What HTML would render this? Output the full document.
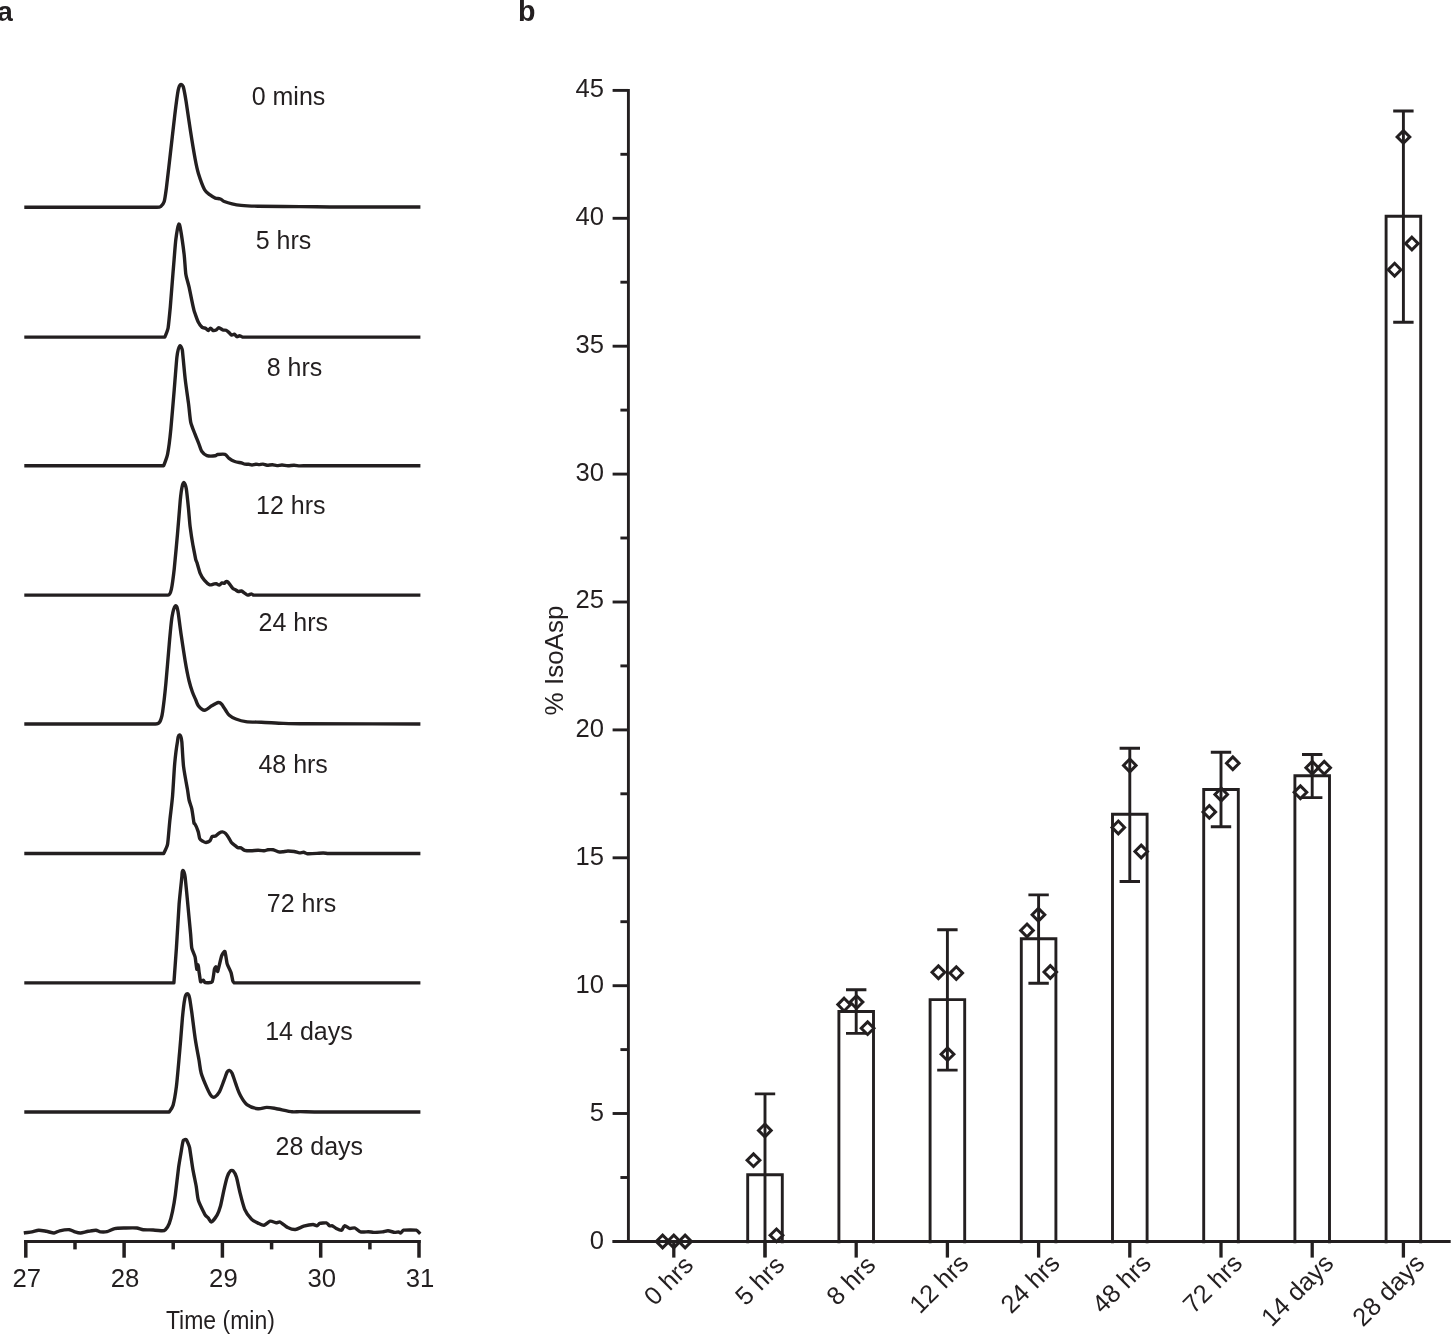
<!DOCTYPE html>
<html><head><meta charset="utf-8"><title>Figure</title>
<style>html,body{margin:0;padding:0;background:#fff}body{width:1451px;height:1335px;overflow:hidden;font-family:'Liberation Sans', sans-serif}svg{display:block;will-change:transform;-webkit-font-smoothing:antialiased}</style>
</head><body>
<svg width="1451" height="1335" viewBox="0 0 1451 1335">
<rect width="1451" height="1335" fill="#fff"/>
<g fill="none" stroke="#231f20" stroke-width="3.4" stroke-linejoin="round" stroke-linecap="butt">
<path d="M24.3 207.3C68.5 207.3 155.6 207.3 156.9 207.3C158.2 207.3 159.8 207.3 160.8 206.5C161.8 205.7 163.6 203.4 164.2 201.5C164.8 199.6 165.8 192.5 166.4 188.0C167.0 183.5 169.0 165.5 170.3 154.3C171.6 143.1 173.8 123.1 174.8 114.9C175.8 106.7 177.8 92.2 178.2 90.2C178.6 88.2 179.4 85.3 180.4 84.6C181.4 83.9 182.9 85.7 183.3 86.9C183.7 88.1 185.3 96.6 186.1 101.5C186.9 106.4 189.2 122.8 190.6 131.8C192.0 140.8 194.2 153.9 195.1 158.8C196.0 163.7 196.9 168.6 198.4 173.4C199.9 178.2 203.5 187.6 204.6 189.7C205.7 191.8 208.0 193.4 209.7 194.7C211.4 196.0 213.7 197.5 215.3 198.1C216.9 198.7 218.8 198.4 220.3 199.0C221.8 199.6 222.8 200.9 224.3 201.5C225.8 202.1 229.5 203.3 232.1 203.9C234.7 204.5 238.1 205.1 241.1 205.4C244.1 205.7 252.4 206.1 258.0 206.2C263.6 206.3 286.7 206.5 300.0 206.6C313.3 206.7 326.7 207.0 340.0 207.0C353.3 207.0 393.6 207.0 420.4 207.0"/>
<path d="M24.3 337.1C59.4 337.1 164.8 337.1 164.8 337.1C164.8 337.1 164.8 337.1 164.8 337.1C164.8 337.1 167.7 330.4 168.1 328.0C168.5 325.6 169.8 312.3 170.3 307.0C170.8 301.7 172.4 279.7 173.1 271.7C173.8 263.7 175.3 243.7 175.8 239.8C176.3 235.9 178.0 225.8 178.8 224.3C179.6 222.8 180.5 229.2 180.8 230.9C181.1 232.6 183.5 249.2 184.1 254.1C184.7 259.0 185.3 270.5 185.8 273.9C186.3 277.3 188.4 283.9 189.1 287.2C189.8 290.5 191.3 297.9 191.8 300.4C192.3 302.9 193.8 309.5 194.0 310.3C194.2 311.1 194.7 312.6 195.0 313.4C195.3 314.2 197.3 320.1 198.1 321.7C198.9 323.3 201.5 326.8 202.2 327.4C202.9 328.0 205.2 328.0 205.9 328.4C206.6 328.8 207.6 330.6 208.4 330.5C209.2 330.4 209.7 328.1 210.5 328.1C211.3 328.1 212.4 330.3 213.1 330.5C213.8 330.7 215.5 330.3 216.2 330.0C216.9 329.7 217.9 327.7 218.8 327.7C219.7 327.7 222.2 329.7 222.9 330.0C223.6 330.3 225.3 329.9 226.0 330.2C226.7 330.5 228.4 332.0 229.1 332.6C229.8 333.2 231.0 334.9 231.7 335.1C232.4 335.3 233.6 333.9 234.3 334.1C235.0 334.3 236.2 336.5 236.9 336.7C237.6 336.9 238.8 335.7 239.5 335.7C240.2 335.7 242.6 337.1 242.6 337.1C242.6 337.1 242.6 337.1 242.6 337.1C242.6 337.1 375.9 337.1 420.4 337.1"/>
<path d="M24.3 465.7C63.8 465.7 163.7 465.7 163.7 465.7C163.7 465.7 163.7 465.7 163.7 465.7C163.7 465.7 166.9 457.5 167.6 454.1C168.3 450.7 170.2 435.9 170.9 428.7C171.6 421.5 173.4 399.4 174.2 390.1C175.0 380.8 176.5 360.3 176.9 357.1C177.3 353.9 178.8 347.1 179.7 346.0C180.6 344.9 182.2 349.0 182.4 350.4C182.6 351.8 184.4 372.2 185.2 379.1C186.0 386.0 187.8 398.1 188.5 403.4C189.2 408.7 190.0 418.6 190.7 422.1C191.4 425.6 193.9 431.1 195.0 434.1C196.1 437.1 198.4 442.6 199.1 444.5C199.8 446.4 200.6 449.6 201.7 451.2C202.8 452.8 205.1 455.0 206.9 455.6C208.7 456.2 214.4 455.9 215.2 455.8C216.0 455.7 216.9 454.6 217.7 454.5C218.5 454.4 223.4 453.8 225.0 454.3C226.6 454.8 227.8 457.4 229.1 458.4C230.4 459.4 233.1 460.9 234.8 461.5C236.5 462.1 240.5 462.6 241.5 462.9C242.5 463.2 244.0 464.0 245.0 464.2C246.0 464.4 247.9 464.2 248.8 464.3C249.7 464.4 251.1 465.0 252.0 465.0C252.9 465.0 255.1 464.2 256.0 464.2C256.9 464.2 258.2 464.6 259.1 464.6C260.0 464.6 261.9 464.0 263.0 464.1C264.1 464.2 265.8 465.1 267.0 465.2C268.2 465.3 271.2 464.7 272.5 464.8C273.8 464.9 275.7 465.6 277.0 465.6C278.3 465.6 280.6 465.0 282.0 465.0C283.4 465.0 286.3 465.8 288.0 465.8C289.7 465.8 292.3 465.3 294.0 465.3C295.7 465.3 298.3 465.9 300.0 465.9C301.7 465.9 306.2 465.7 308.7 465.7C311.2 465.7 388.8 465.7 420.4 465.7"/>
<path d="M24.3 595.1C62.6 595.1 166.3 595.2 168.1 595.1C169.9 595.0 171.0 590.9 171.4 589.1C171.8 587.3 173.6 574.5 174.2 569.2C174.8 563.9 176.7 542.7 177.5 533.9C178.3 525.1 179.8 505.1 180.2 500.9C180.6 496.7 182.2 486.2 182.4 485.4C182.6 484.6 183.5 482.2 184.1 482.7C184.7 483.2 186.0 487.0 186.3 488.7C186.6 490.4 188.0 503.6 188.5 508.6C189.0 513.6 189.6 522.6 190.2 527.3C190.8 532.0 192.2 541.2 192.9 545.0C193.6 548.8 195.5 558.2 195.7 559.3C195.9 560.4 196.8 562.1 197.1 563.1C197.4 564.1 199.4 571.4 200.2 573.4C201.0 575.4 203.1 578.8 204.3 580.2C205.5 581.6 208.6 584.4 209.5 584.8C210.4 585.2 212.3 584.4 213.1 584.3C213.9 584.2 215.4 583.5 216.2 583.6C217.0 583.7 218.4 585.2 219.3 585.1C220.2 585.0 221.2 583.2 221.9 583.0C222.6 582.8 223.9 583.5 224.5 583.3C225.1 583.1 225.4 581.7 226.0 581.5C226.6 581.3 227.7 581.8 228.1 582.2C228.5 582.6 232.0 587.7 232.7 588.4C233.4 589.1 235.1 589.6 235.8 590.0C236.5 590.4 237.6 591.4 238.4 591.5C239.2 591.6 240.7 590.8 241.5 591.0C242.3 591.2 243.8 592.6 244.6 593.1C245.4 593.6 246.7 595.0 247.7 595.1C248.7 595.2 250.7 593.9 251.3 593.9C251.9 593.9 253.4 595.1 253.4 595.1C253.4 595.1 253.4 595.1 253.4 595.1C253.4 595.1 375.9 595.1 420.4 595.1"/>
<path d="M24.3 724.0C68.0 724.0 153.8 724.0 155.4 724.0C157.0 724.0 159.0 723.2 159.8 721.8C160.6 720.4 162.1 715.3 162.6 711.9C163.1 708.5 165.0 692.8 165.9 683.2C166.8 673.6 168.4 653.8 169.2 644.6C170.0 635.4 171.4 620.9 172.0 617.1C172.6 613.3 173.8 607.4 175.3 606.0C176.8 604.6 177.6 609.5 178.0 611.5C178.4 613.5 180.1 627.7 181.3 635.8C182.5 643.9 184.1 654.6 185.2 661.2C186.3 667.8 188.2 677.3 189.1 681.0C190.0 684.7 191.5 689.4 192.4 692.0C193.3 694.6 194.8 697.7 195.7 699.7C196.6 701.7 197.0 704.1 198.4 705.8C199.8 707.5 202.0 710.2 204.5 710.2C207.0 710.2 209.6 707.0 211.7 705.8C213.8 704.6 217.1 702.7 218.3 702.5C219.5 702.3 220.8 703.2 221.6 704.1C222.4 705.0 225.0 709.3 226.0 710.8C227.0 712.3 227.9 714.0 229.3 715.2C230.7 716.4 233.5 718.1 235.9 719.0C238.3 719.9 242.4 721.2 245.8 721.6C249.2 722.0 256.1 722.1 261.3 722.3C266.5 722.5 277.7 723.2 283.3 723.4C288.9 723.6 294.4 723.8 300.0 723.8C305.6 723.8 380.3 723.9 420.4 724.0"/>
<path d="M24.3 853.5C59.1 853.5 163.7 853.5 163.7 853.5C163.7 853.5 163.7 853.5 163.7 853.5C163.7 853.5 167.1 846.6 167.6 844.1C168.1 841.6 169.2 826.7 169.8 820.9C170.4 815.1 172.0 802.8 172.5 796.7C173.0 790.6 174.2 769.1 174.7 763.6C175.2 758.1 177.2 743.2 177.5 741.5C177.8 739.8 178.0 734.5 179.7 734.9C181.4 735.3 181.7 740.6 181.9 742.6C182.1 744.6 182.9 761.3 183.6 766.9C184.3 772.5 186.9 786.3 187.4 789.0C187.9 791.7 188.6 797.8 189.1 800.0C189.6 802.2 191.3 806.5 191.8 808.8C192.3 811.1 193.9 822.8 194.0 823.1C194.1 823.4 194.8 823.8 195.0 824.1C195.2 824.4 197.5 829.6 198.1 831.4C198.7 833.2 199.3 837.7 199.7 838.6C200.1 839.5 202.1 840.8 202.8 841.2C203.5 841.6 205.1 842.6 205.9 842.5C206.7 842.4 209.2 841.5 210.0 840.7C210.8 839.9 211.4 837.1 212.1 836.5C212.8 835.9 214.9 836.4 215.7 836.0C216.5 835.6 218.6 833.3 219.3 832.9C220.0 832.5 221.6 831.8 222.4 831.9C223.2 832.0 224.9 832.8 225.5 833.4C226.1 834.0 227.9 836.5 228.6 837.6C229.3 838.7 230.5 841.3 231.2 842.2C231.9 843.1 234.0 844.7 234.8 845.3C235.6 845.9 237.2 847.4 237.9 847.7C238.6 848.0 240.3 847.6 241.0 847.9C241.7 848.2 243.6 850.0 244.6 850.3C245.6 850.6 249.2 850.8 250.8 850.8C252.4 850.8 256.5 850.3 258.1 850.3C259.7 850.3 263.4 850.8 264.3 850.8C265.2 850.8 267.0 849.9 267.9 849.8C268.8 849.7 271.8 849.6 273.1 849.8C274.4 850.0 277.7 851.6 278.7 851.8C279.7 852.0 281.9 851.9 282.9 851.8C283.9 851.7 286.7 851.0 288.0 851.0C289.3 851.0 292.9 851.3 294.2 851.5C295.5 851.7 298.3 852.8 299.4 852.9C300.5 853.0 302.6 852.2 303.6 852.3C304.6 852.4 306.2 853.6 307.2 853.7C308.2 853.8 315.4 853.5 317.0 853.4C318.6 853.3 321.9 853.0 323.2 853.0C324.5 853.0 327.1 853.5 328.4 853.5C329.7 853.5 397.4 853.5 420.4 853.5"/>
<path d="M24.3 982.9C54.2 982.9 173.9 982.9 173.9 982.9C173.9 982.9 173.9 982.9 173.9 982.9C173.9 982.9 175.9 955.1 176.4 948.2C176.9 941.3 178.7 909.6 179.1 904.1C179.5 898.6 181.8 877.7 181.9 876.5C182.0 875.3 182.0 870.1 183.2 870.5C184.4 870.9 185.0 876.1 185.2 877.6C185.4 879.1 187.5 900.6 188.0 906.3C188.5 912.0 190.5 932.4 190.7 935.0C190.9 937.6 191.4 946.4 191.8 948.2C192.2 950.0 194.7 955.2 195.1 957.0C195.5 958.8 196.5 968.3 196.8 969.2C197.1 970.1 197.2 964.0 197.9 964.7C198.6 965.4 198.8 970.1 199.0 971.4C199.2 972.7 200.3 981.2 200.6 981.8C200.9 982.4 202.8 980.1 203.4 980.2C204.0 980.3 204.5 982.5 205.1 982.6C205.7 982.7 211.4 983.0 212.2 981.8C213.0 980.6 214.3 969.8 214.4 969.2C214.5 968.6 215.6 966.6 216.1 966.9C216.6 967.2 217.3 972.3 217.7 971.4C218.1 970.5 221.2 956.9 221.6 955.9C222.0 954.9 224.3 950.6 224.9 951.5C225.5 952.4 226.6 961.7 227.1 963.6C227.6 965.5 230.5 970.8 231.0 972.5C231.5 974.2 232.7 980.5 232.8 981.0C232.9 981.5 234.2 982.9 234.2 982.9C234.2 982.9 234.2 982.9 234.2 982.9C234.2 982.9 383.2 982.9 420.4 982.9"/>
<path d="M24.3 1112.0C72.6 1112.0 169.2 1112.0 169.2 1112.0C169.2 1112.0 169.2 1112.0 169.2 1112.0C169.2 1112.0 172.4 1107.7 173.1 1105.2C173.8 1102.7 175.6 1092.7 176.4 1086.4C177.2 1080.1 178.7 1062.2 179.7 1051.2C180.7 1040.2 181.8 1024.4 182.4 1018.1C183.0 1011.8 184.3 1001.2 184.7 999.3C185.1 997.4 185.2 994.2 186.9 993.8C188.6 993.4 189.2 996.5 189.6 998.2C190.0 999.9 191.1 1007.8 191.8 1012.6C192.5 1017.4 194.0 1030.5 195.1 1037.9C196.2 1045.3 198.2 1055.6 199.0 1060.0C199.8 1064.4 200.0 1068.9 201.2 1073.2C202.4 1077.5 206.1 1085.9 207.3 1088.6C208.5 1091.3 210.9 1095.6 211.7 1096.4C212.5 1097.2 214.0 1097.5 215.0 1096.9C216.0 1096.3 218.3 1093.8 219.4 1091.9C220.5 1090.0 222.7 1083.8 223.8 1080.9C224.9 1078.0 226.7 1072.9 227.1 1072.1C227.5 1071.3 228.4 1070.2 229.3 1070.4C230.2 1070.6 231.5 1072.0 232.1 1073.2C232.7 1074.4 234.6 1080.6 235.9 1084.2C237.2 1087.8 238.5 1092.0 240.3 1095.3C242.1 1098.6 243.9 1102.3 246.9 1104.6C249.9 1106.9 255.1 1108.3 258.0 1108.7C260.9 1109.1 263.8 1107.4 266.8 1107.4C269.8 1107.4 272.7 1108.0 275.6 1108.5C278.5 1109.0 289.5 1111.5 292.1 1111.8C294.7 1112.1 297.4 1111.6 300.0 1111.6C302.6 1111.6 313.3 1112.0 320.0 1112.0C326.7 1112.0 386.9 1112.0 420.4 1112.0"/>
<path d="M23.8 1233.0C25.7 1232.7 30.4 1232.2 32.0 1231.9C33.6 1231.6 37.1 1230.3 38.7 1230.2C40.3 1230.1 44.6 1231.0 46.4 1231.3C48.2 1231.6 52.7 1233.1 54.1 1233.0C55.5 1232.9 58.2 1231.1 59.6 1230.8C61.0 1230.5 68.1 1229.6 69.5 1229.7C70.9 1229.8 73.7 1231.5 75.0 1231.9C76.3 1232.3 79.3 1233.1 80.6 1233.0C81.9 1232.9 86.5 1231.6 88.3 1231.3C90.1 1231.0 94.9 1230.1 96.0 1230.2C97.1 1230.3 99.3 1231.8 100.4 1231.9C101.5 1232.0 105.5 1232.0 107.0 1231.7C108.5 1231.4 112.8 1229.0 114.7 1228.6C116.6 1228.2 123.2 1228.1 125.8 1228.0C128.4 1227.9 135.2 1227.8 136.8 1228.0C138.4 1228.2 141.7 1229.5 143.3 1229.7C144.9 1229.9 151.1 1229.9 153.2 1230.0C155.3 1230.1 161.3 1230.8 162.1 1230.8C162.9 1230.8 164.8 1230.3 165.4 1229.7C166.0 1229.1 168.6 1225.2 169.2 1223.6C169.8 1222.0 171.9 1214.4 172.5 1211.5C173.1 1208.6 174.8 1198.9 175.3 1195.0C175.8 1191.1 178.1 1171.3 178.6 1167.4C179.1 1163.5 180.9 1153.4 181.3 1150.9C181.7 1148.4 183.0 1141.1 183.3 1140.4C183.6 1139.7 185.8 1139.3 186.3 1139.8C186.8 1140.3 189.2 1145.7 189.6 1147.6C190.0 1149.5 192.2 1165.7 192.9 1169.6C193.6 1173.5 195.6 1182.9 196.2 1186.2C196.8 1189.5 197.4 1197.3 198.4 1200.5C199.4 1203.7 204.5 1213.8 205.0 1214.8C205.5 1215.8 207.7 1217.3 208.4 1218.1C209.1 1218.9 210.3 1222.4 211.4 1222.0C212.5 1221.6 216.1 1216.7 217.2 1214.8C218.3 1212.9 219.9 1208.1 220.5 1206.0C221.1 1203.9 223.1 1193.7 223.8 1190.6C224.5 1187.5 226.6 1178.9 227.1 1177.3C227.6 1175.7 229.9 1171.4 230.4 1170.9C230.9 1170.4 232.7 1170.4 233.2 1170.9C233.7 1171.4 236.0 1175.7 236.5 1177.3C237.0 1178.9 239.4 1190.3 240.3 1193.9C241.2 1197.5 243.6 1206.7 244.7 1209.3C245.8 1211.9 250.2 1217.9 251.4 1219.2C252.6 1220.5 256.7 1222.5 258.0 1223.1C259.3 1223.7 262.5 1225.5 264.0 1225.3C265.5 1225.1 268.7 1221.5 270.1 1221.2C271.5 1220.9 275.3 1222.7 276.2 1222.8C277.1 1222.9 279.2 1221.7 280.0 1222.0C280.8 1222.3 286.0 1226.7 287.7 1227.5C289.4 1228.3 293.5 1229.7 295.4 1229.5C297.3 1229.3 301.7 1226.8 303.7 1226.2C305.7 1225.6 312.2 1224.5 313.1 1224.5C314.0 1224.5 316.1 1225.9 316.9 1225.8C317.7 1225.7 318.9 1223.7 319.7 1223.4C320.5 1223.1 325.3 1222.7 326.3 1222.9C327.3 1223.1 329.0 1225.5 329.6 1225.8C330.2 1226.1 331.8 1225.6 332.4 1225.8C333.0 1226.0 335.2 1227.9 336.2 1228.4C337.2 1228.9 340.5 1230.6 341.7 1230.2C342.9 1229.8 343.3 1226.1 344.5 1225.8C345.7 1225.5 348.2 1228.1 349.5 1228.4C350.8 1228.7 353.8 1227.6 355.0 1228.0C356.2 1228.4 359.0 1231.5 360.5 1231.9C362.0 1232.3 366.9 1231.7 368.2 1231.7C369.5 1231.7 372.4 1232.4 373.7 1232.4C375.0 1232.4 381.2 1232.0 382.5 1231.9C383.8 1231.8 386.7 1230.7 388.0 1230.8C389.3 1230.9 393.8 1232.3 394.7 1232.4C395.6 1232.5 397.9 1231.8 398.5 1231.9C399.1 1232.0 400.2 1233.2 400.7 1233.0C401.2 1232.8 402.6 1230.4 403.5 1230.2C404.4 1230.0 415.0 1229.9 416.2 1230.2C417.4 1230.5 419.3 1233.0 420.2 1233.9"/>
</g>
<g stroke="#231f20" stroke-width="3.5" fill="none">
<path d="M24.1 1241.45H420.6" stroke-width="2.9"/>
<path d="M25.8 1240.0V1257.7"/>
<path d="M124.1 1240.0V1257.7"/>
<path d="M222.4 1240.0V1257.7"/>
<path d="M320.7 1240.0V1257.7"/>
<path d="M419.0 1240.0V1257.7"/>
<path d="M75.0 1241.45V1249.4"/>
<path d="M173.2 1241.45V1249.4"/>
<path d="M271.6 1241.45V1249.4"/>
<path d="M369.9 1241.45V1249.4"/>
</g>
<g font-family="'Liberation Sans', sans-serif" fill="#231f20">
<text x="251.7" y="104.6" font-size="25" text-anchor="start" font-weight="normal" >0 mins</text>
<text x="255.7" y="248.6" font-size="25" text-anchor="start" font-weight="normal" >5 hrs</text>
<text x="266.7" y="375.8" font-size="25" text-anchor="start" font-weight="normal" >8 hrs</text>
<text x="256.1" y="513.8" font-size="25" text-anchor="start" font-weight="normal" >12 hrs</text>
<text x="258.6" y="630.7" font-size="25" text-anchor="start" font-weight="normal" >24 hrs</text>
<text x="258.4" y="772.7" font-size="25" text-anchor="start" font-weight="normal" >48 hrs</text>
<text x="266.8" y="911.6" font-size="25" text-anchor="start" font-weight="normal" >72 hrs</text>
<text x="265.2" y="1039.7" font-size="25" text-anchor="start" font-weight="normal" >14 days</text>
<text x="275.5" y="1154.7" font-size="25" text-anchor="start" font-weight="normal" >28 days</text>
<text x="26.8" y="1286.9" font-size="25.7" text-anchor="middle" font-weight="normal" >27</text>
<text x="125.1" y="1286.9" font-size="25.7" text-anchor="middle" font-weight="normal" >28</text>
<text x="223.4" y="1286.9" font-size="25.7" text-anchor="middle" font-weight="normal" >29</text>
<text x="321.7" y="1286.9" font-size="25.7" text-anchor="middle" font-weight="normal" >30</text>
<text x="420.0" y="1286.9" font-size="25.7" text-anchor="middle" font-weight="normal" >31</text>
<text x="220.4" y="1329.4" font-size="26" text-anchor="middle" textLength="109" lengthAdjust="spacingAndGlyphs">Time (min)</text>
<text x="-2.7" y="20.6" font-size="28" text-anchor="start" font-weight="bold" >a</text>
<text x="517.9" y="20.7" font-size="28.6" text-anchor="start" font-weight="bold" >b</text>
<text x="604.0" y="1248.8" font-size="25.6" text-anchor="end" font-weight="normal" >0</text>
<text x="604.0" y="1120.9" font-size="25.6" text-anchor="end" font-weight="normal" >5</text>
<text x="604.0" y="993.0" font-size="25.6" text-anchor="end" font-weight="normal" >10</text>
<text x="604.0" y="865.0" font-size="25.6" text-anchor="end" font-weight="normal" >15</text>
<text x="604.0" y="736.8" font-size="25.6" text-anchor="end" font-weight="normal" >20</text>
<text x="604.0" y="608.4" font-size="25.6" text-anchor="end" font-weight="normal" >25</text>
<text x="604.0" y="480.5" font-size="25.6" text-anchor="end" font-weight="normal" >30</text>
<text x="604.0" y="352.6" font-size="25.6" text-anchor="end" font-weight="normal" >35</text>
<text x="604.0" y="224.7" font-size="25.6" text-anchor="end" font-weight="normal" >40</text>
<text x="604.0" y="96.8" font-size="25.6" text-anchor="end" font-weight="normal" >45</text>
<text transform="translate(563 660.5) rotate(-90)" font-size="26" text-anchor="middle">% IsoAsp</text>
<text transform="translate(694.7 1266.6) rotate(-45)" font-size="25.5" text-anchor="end">0 hrs</text>
<text transform="translate(785.9 1266.6) rotate(-45)" font-size="25.5" text-anchor="end">5 hrs</text>
<text transform="translate(877.1 1266.6) rotate(-45)" font-size="25.5" text-anchor="end">8 hrs</text>
<text transform="translate(970.1 1264.7) rotate(-45)" font-size="25.5" text-anchor="end">12 hrs</text>
<text transform="translate(1061.3 1264.7) rotate(-45)" font-size="25.5" text-anchor="end">24 hrs</text>
<text transform="translate(1152.5 1264.7) rotate(-45)" font-size="25.5" text-anchor="end">48 hrs</text>
<text transform="translate(1243.7 1264.7) rotate(-45)" font-size="25.5" text-anchor="end">72 hrs</text>
<text transform="translate(1334.9 1264.7) rotate(-45)" font-size="25.5" text-anchor="end">14 days</text>
<text transform="translate(1426.1 1264.7) rotate(-45)" font-size="25.5" text-anchor="end">28 days</text>
</g>
<g stroke="#231f20" stroke-width="2.9" fill="none" stroke-linecap="butt" stroke-linejoin="miter">
<path d="M628.4 89.0V1242.9"/>
<path d="M612.6 1241.5H628.4"/>
<path d="M612.6 1113.5H628.4"/>
<path d="M612.6 985.7H628.4"/>
<path d="M612.6 857.8H628.4"/>
<path d="M612.6 729.9H628.4"/>
<path d="M612.6 602.0H628.4"/>
<path d="M612.6 474.1H628.4"/>
<path d="M612.6 346.2H628.4"/>
<path d="M612.6 218.3H628.4"/>
<path d="M612.6 90.4H628.4"/>
<path d="M620.4 1177.5H628.4"/>
<path d="M620.4 1049.6H628.4"/>
<path d="M620.4 921.7H628.4"/>
<path d="M620.4 793.8H628.4"/>
<path d="M620.4 665.9H628.4"/>
<path d="M620.4 538.0H628.4"/>
<path d="M620.4 410.1H628.4"/>
<path d="M620.4 282.2H628.4"/>
<path d="M620.4 154.3H628.4"/>
<path d="M612.6 1241.45H1450.7" stroke-width="2.95"/>
<path d="M673.8 1241.45V1257.6" stroke-width="3.3"/>
<path d="M765.0 1241.45V1257.6" stroke-width="3.3"/>
<path d="M856.2 1241.45V1257.6" stroke-width="3.3"/>
<path d="M947.4 1241.45V1257.6" stroke-width="3.3"/>
<path d="M1038.6 1241.45V1257.6" stroke-width="3.3"/>
<path d="M1129.8 1241.45V1257.6" stroke-width="3.3"/>
<path d="M1221.0 1241.45V1257.6" stroke-width="3.3"/>
<path d="M1312.2 1241.45V1257.6" stroke-width="3.3"/>
<path d="M1403.4 1241.45V1257.6" stroke-width="3.3"/>
<path d="M747.7 1243.35V1174.8H782.3V1243.35"/>
<path d="M838.9 1243.35V1011.5H873.5V1243.35"/>
<path d="M930.1 1243.35V999.6H964.7V1243.35"/>
<path d="M1021.3 1243.35V938.8H1055.9V1243.35"/>
<path d="M1112.5 1243.35V814.3H1147.1V1243.35"/>
<path d="M1203.7 1243.35V789.5H1238.3V1243.35"/>
<path d="M1294.9 1243.35V775.8H1329.5V1243.35"/>
<path d="M1386.1 1243.35V216.2H1420.7V1243.35"/>
<path d="M765.0 1093.9V1257.0M754.8 1093.9H775.2"/>
<path d="M856.2 989.7V1033.4M846.0 989.7H866.4M846.0 1033.4H866.4"/>
<path d="M947.4 929.7V1070.1M937.2 929.7H957.6M937.2 1070.1H957.6"/>
<path d="M1038.6 894.9V983.3M1028.4 894.9H1048.8M1028.4 983.3H1048.8"/>
<path d="M1129.8 748.3V881.5M1119.6 748.3H1140.0M1119.6 881.5H1140.0"/>
<path d="M1221.0 752.3V826.7M1210.8 752.3H1231.2M1210.8 826.7H1231.2"/>
<path d="M1312.2 754.5V797.6M1302.0 754.5H1322.4M1302.0 797.6H1322.4"/>
<path d="M1403.4 111.0V322.2M1393.2 111.0H1413.6M1393.2 322.2H1413.6"/>
<path d="M662.6 1235.1L669.0 1241.4L662.6 1247.8L656.2 1241.4Z" stroke-width="2.95"/>
<path d="M673.8 1235.1L680.1 1241.4L673.8 1247.8L667.4 1241.4Z" stroke-width="2.95"/>
<path d="M685.1 1235.1L691.5 1241.4L685.1 1247.8L678.8 1241.4Z" stroke-width="2.95"/>
<path d="M764.9 1124.1L771.2 1130.4L764.9 1136.8L758.5 1130.4Z" stroke-width="2.95"/>
<path d="M753.5 1153.9L759.9 1160.2L753.5 1166.5L747.1 1160.2Z" stroke-width="2.95"/>
<path d="M776.5 1229.0L782.9 1235.3L776.5 1241.6L770.1 1235.3Z" stroke-width="2.95"/>
<path d="M844.1 998.2L850.5 1004.6L844.1 1011.0L837.8 1004.6Z" stroke-width="2.95"/>
<path d="M856.5 995.8L862.9 1002.1L856.5 1008.5L850.1 1002.1Z" stroke-width="2.95"/>
<path d="M867.6 1021.9L874.0 1028.2L867.6 1034.5L861.2 1028.2Z" stroke-width="2.95"/>
<path d="M938.4 965.9L944.8 972.3L938.4 978.6L932.0 972.3Z" stroke-width="2.95"/>
<path d="M956.3 966.8L962.6 973.1L956.3 979.5L949.9 973.1Z" stroke-width="2.95"/>
<path d="M947.5 1047.9L953.9 1054.2L947.5 1060.5L941.1 1054.2Z" stroke-width="2.95"/>
<path d="M1038.4 908.4L1044.8 914.8L1038.4 921.1L1032.1 914.8Z" stroke-width="2.95"/>
<path d="M1027.0 924.0L1033.3 930.4L1027.0 936.8L1020.6 930.4Z" stroke-width="2.95"/>
<path d="M1050.3 965.6L1056.6 972.0L1050.3 978.4L1044.0 972.0Z" stroke-width="2.95"/>
<path d="M1129.8 759.0L1136.1 765.4L1129.8 771.8L1123.5 765.4Z" stroke-width="2.95"/>
<path d="M1118.3 821.0L1124.6 827.4L1118.3 833.8L1112.0 827.4Z" stroke-width="2.95"/>
<path d="M1141.2 845.1L1147.5 851.5L1141.2 857.9L1134.9 851.5Z" stroke-width="2.95"/>
<path d="M1232.8 756.9L1239.1 763.3L1232.8 769.6L1226.5 763.3Z" stroke-width="2.95"/>
<path d="M1221.2 788.1L1227.5 794.5L1221.2 800.9L1214.9 794.5Z" stroke-width="2.95"/>
<path d="M1209.3 805.5L1215.6 811.9L1209.3 818.2L1203.0 811.9Z" stroke-width="2.95"/>
<path d="M1312.2 761.4L1318.5 767.8L1312.2 774.1L1305.9 767.8Z" stroke-width="2.95"/>
<path d="M1324.2 761.4L1330.5 767.8L1324.2 774.1L1317.9 767.8Z" stroke-width="2.95"/>
<path d="M1300.4 785.9L1306.8 792.3L1300.4 798.6L1294.1 792.3Z" stroke-width="2.95"/>
<path d="M1403.4 130.6L1409.8 136.9L1403.4 143.2L1397.1 136.9Z" stroke-width="2.95"/>
<path d="M1411.9 237.2L1418.2 243.6L1411.9 249.9L1405.6 243.6Z" stroke-width="2.95"/>
<path d="M1394.6 263.3L1400.9 269.7L1394.6 276.1L1388.2 269.7Z" stroke-width="2.95"/>
</g>
</svg>
</body></html>
